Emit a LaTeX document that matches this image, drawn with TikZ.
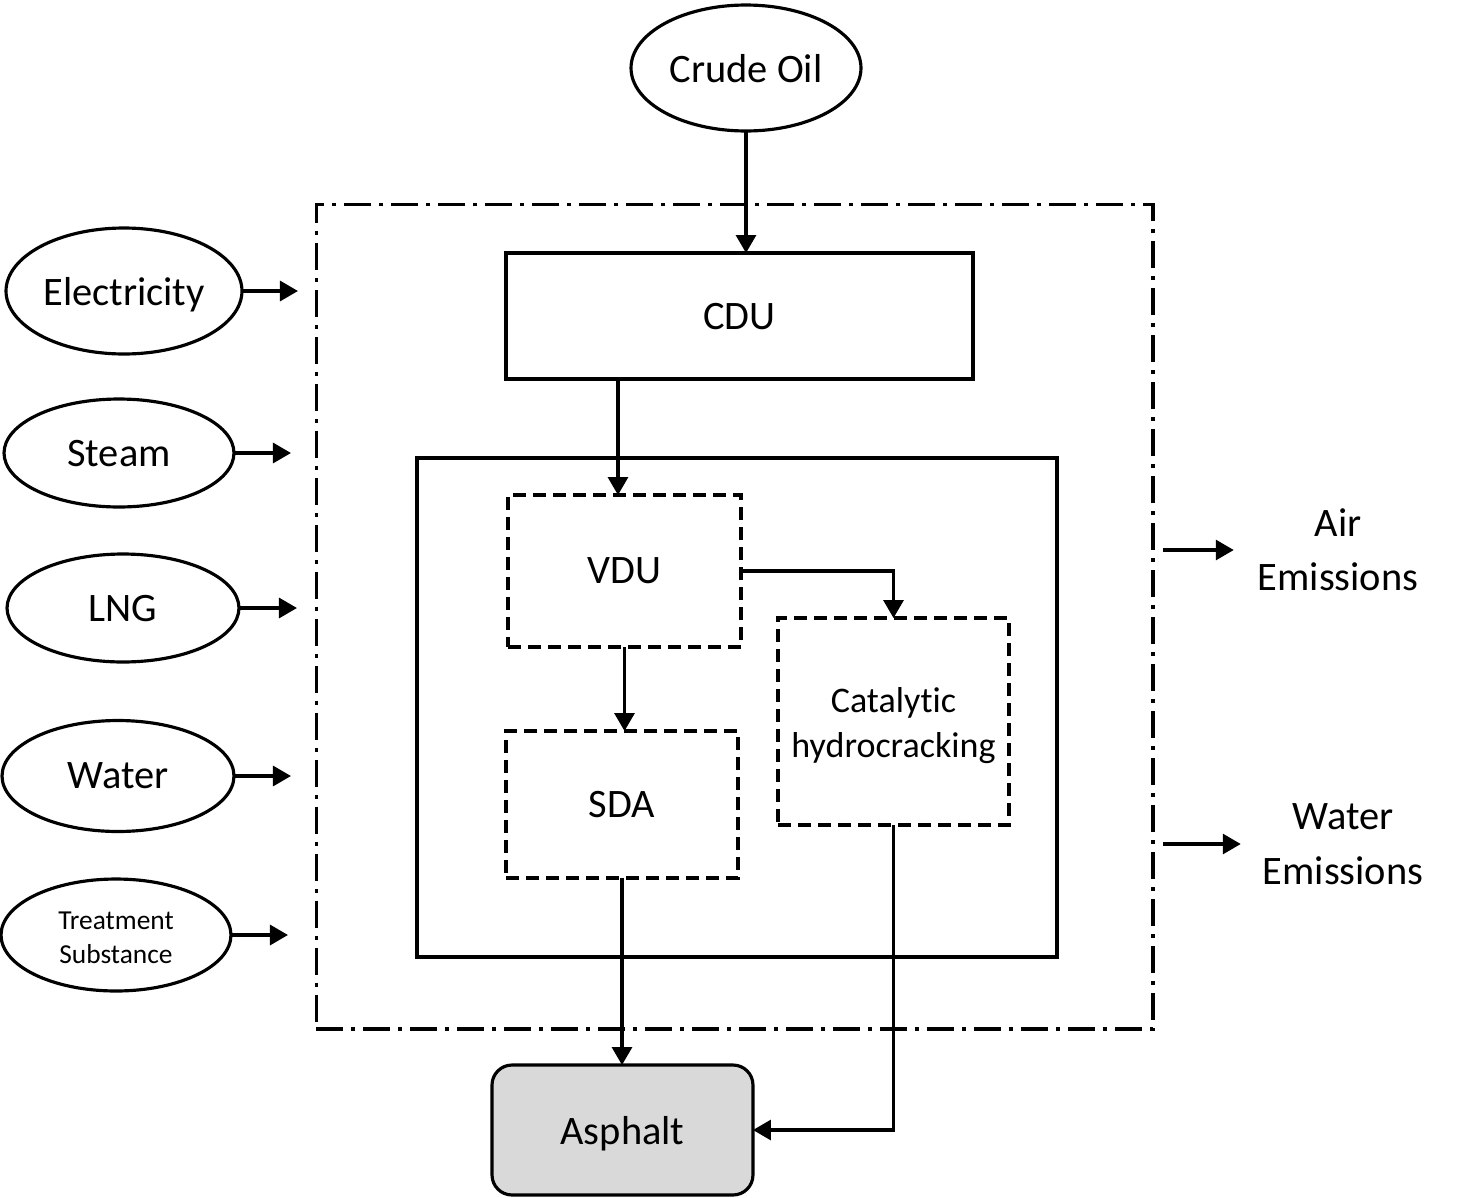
\documentclass[tikz,border=0pt]{standalone}
\usepackage{fontspec}
\setmainfont[Ligatures=NoCommon]{Carlito}
\usetikzlibrary{arrows.meta,shapes.geometric,calc}
\definecolor{asphgray}{HTML}{D9D9D9}
\begin{document}
\begin{tikzpicture}[x=0.02cm,y=-0.02cm,
  lw/.style={line width=1.8pt},
  arr/.style={lw,-{Triangle[length=0.36cm,width=0.4cm]}},
  big/.style={font=\fontsize{23}{31}\selectfont},
  one/.style={text depth=0pt},
  oval/.style={ellipse,draw,lw,inner sep=0pt,outer sep=0pt,big},
  box/.style={rectangle,draw,lw,inner sep=0pt,outer sep=0pt,big},
  dbox/.style={box,dash pattern=on 0.26cm off 0.14cm},
  sysbox/.style={rectangle,draw,lw,inner sep=0pt,outer sep=0pt,
    dash pattern=on 0.54cm off 0.16cm on 0.08cm off 0.16cm},
  emis/.style={big,align=center,inner sep=0pt,outer sep=0pt}
]
\useasboundingbox (0,0) rectangle (1474,1197);

% system boundary and inner box
\node[sysbox,minimum width=16.74cm,minimum height=16.5cm] (sys) at (734.5,616.5) {};
\node[box,minimum width=12.8cm,minimum height=9.98cm] (inner) at (737,707.5) {};

% top
\node[oval,one,minimum width=4.6cm,minimum height=2.52cm] (crude) at (746,68) {Crude Oil};
\node[box,one,minimum width=9.34cm,minimum height=2.52cm] (cdu) at (739.5,316) {CDU};

% process units
\node[dbox,one,minimum width=4.66cm,minimum height=3.04cm] (vdu) at (624.5,571) {VDU};
\node[dbox,minimum width=4.62cm,minimum height=4.14cm,
  font=\fontsize{20.5}{25.5}\selectfont] (cat) at (893.5,721.5) {\raisebox{-0.08cm}[\height][\depth]{\parbox{4.2cm}{\centering Catalytic\\hydrocracking}}};
\node[dbox,one,minimum width=4.64cm,minimum height=2.94cm] (sda) at (622,804.5) {SDA};
\node[box,one,fill=asphgray,rounded corners=0.4cm,minimum width=5.22cm,minimum height=2.6cm] (asph) at (622.5,1130) {Asphalt};

% inputs
\node[oval,one,minimum width=4.72cm,minimum height=2.52cm] (elec) at (124,291) {Electricity};
\node[oval,one,minimum width=4.6cm,minimum height=2.16cm] (steam) at (119,453) {Steam};
\node[oval,one,minimum width=4.64cm,minimum height=2.16cm] (lng) at (123,608) {LNG};
\node[oval,one,minimum width=4.64cm,minimum height=2.22cm] (water) at (118,776) {Water};
\node[oval,minimum width=4.6cm,minimum height=2.24cm,
  font=\fontsize{15.6}{19.3}\selectfont] (treat) at (116,935) {\raisebox{-0.05cm}[\height][\depth]{\parbox{3cm}{\centering Treatment\\Substance}}};

% outputs
\node[emis] (air) at (1338,550) {Air\\Emissions};
\node[emis] (wem) at (1343,844) {Water\\Emissions};

% connectors
\coordinate (c1) at (618,379);
\draw[arr] (crude.south) -- (crude.south |- cdu.north);
\draw[arr] (c1 |- cdu.south) -- (c1 |- vdu.north);
\draw[arr] (vdu.east) -- (vdu.east -| cat.north) -- (cat.north);
\draw[arr] (vdu.south) -- (vdu.south |- sda.north);
\draw[arr] (sda.south) -- (sda.south |- asph.north);
\draw[arr] (cat.south) |- (asph.east);

\draw[arr] (elec.east) -- ++(56,0);
\draw[arr] (steam.east) -- ++(57,0);
\draw[arr] (lng.east) -- ++(58,0);
\draw[arr] (water.east) -- ++(57,0);
\draw[arr] (treat.east) -- ++(57,0);

\draw[arr] ($(sys.east |- air.west)+(10,0)$) -- ($(air.west)+(-24,0)$);
\draw[arr] ($(sys.east |- wem.west)+(10,0)$) -- ($(wem.west)+(-22,0)$);
\end{tikzpicture}
\end{document}
